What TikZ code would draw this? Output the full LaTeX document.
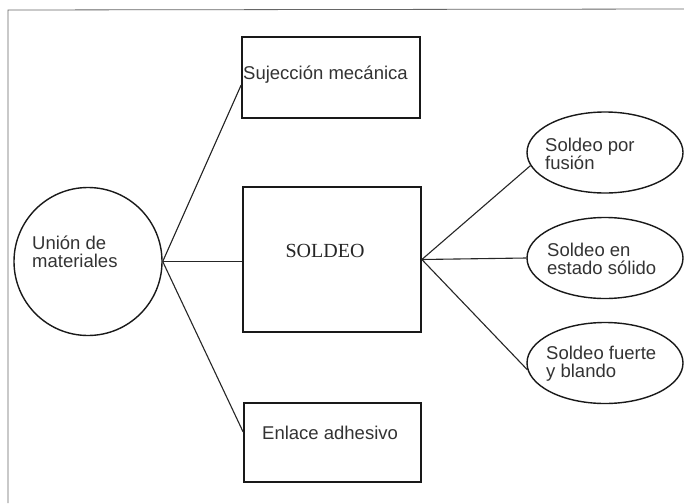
\documentclass[tikz,border=0pt]{standalone}
\usepackage{fontspec}
\setmainfont{Liberation Sans}
\newfontfamily\serifl{Liberation Serif}
\usetikzlibrary{shapes.geometric}
\tikzset{
  box/.style={draw=black!90, line width=1.7pt, inner sep=0pt},
  oval/.style={draw=black!90, line width=1.4pt, ellipse, inner sep=0pt, minimum width=156pt, minimum height=81pt},
  round/.style={draw=black!90, line width=1.4pt, circle, inner sep=0pt, minimum size=148pt},
  conn/.style={draw=black!85, line width=1.1pt},
  lbl/.style={font=\fontsize{18.5}{18}\selectfont, text=black!80, align=left, inner sep=0pt},
  frame/.style={draw=black!60, line width=0.8pt}
}
\begin{document}
\begin{tikzpicture}[x=1pt,y=-1pt]
\useasboundingbox (0,0) rectangle (684,503);
\fill[white] (0,0) rectangle (684,503);
% frame
\coordinate (ftl) at (8,10);
\coordinate (ftr) at (684,9);
\coordinate (fbl) at (8,503);
\draw[frame] (fbl) -- (ftl) -- (ftr);
% shapes
\node[round] (c) at (88,261.5) {};
\node[box, minimum width=178pt, minimum height=81pt] (suj) at (331,77.5) {};
\node[box, minimum width=178pt, minimum height=145pt] (sold) at (332,259.5) {};
\node[box, minimum width=177pt, minimum height=79pt] (enl) at (332.5,442.5) {};
\node[oval] (fus) at (605,152.5) {};
\node[oval] (sol) at (605,258) {};
\node[oval] (bla) at (605,363) {};
% labels
\node[lbl, anchor=west] (tc) at (32,252) {Unión de\\materiales};
\node[lbl, anchor=west] (tsuj) at (243,75) {Sujección mecánica};
\node[inner sep=0pt, font=\serifl\fontsize{20}{20}\selectfont, text=black!85] (tsold) at (325,251) {SOLDEO};
\node[lbl, anchor=west] (tenl) at (262,433) {Enlace adhesivo};
\node[lbl, anchor=west] (tfus) at (545,154) {Soldeo por\\fusión};
\node[lbl, anchor=west] (tsol) at (547,259) {Soldeo en\\estado sólido};
\node[lbl, anchor=west] (tbla) at (546,364) {Soldeo fuerte\\y blando};
% connector end points
\path (suj.west) ++(0,7.5) coordinate (sujin);
\path (enl.west) ++(0,-10.5) coordinate (enlin);
\coordinate (soldin) at (sold.west |- c.east);
% connectors
\draw[conn] (c.east) -- (sujin);
\draw[conn] (c.east) -- (soldin);
\draw[conn] (c.east) -- (enlin);
\draw[conn] (sold.east) -- (fus.190);
\draw[conn] (sold.east) -- (sol.west);
\draw[conn] (sold.east) -- (bla.185);
\end{tikzpicture}
\end{document}
